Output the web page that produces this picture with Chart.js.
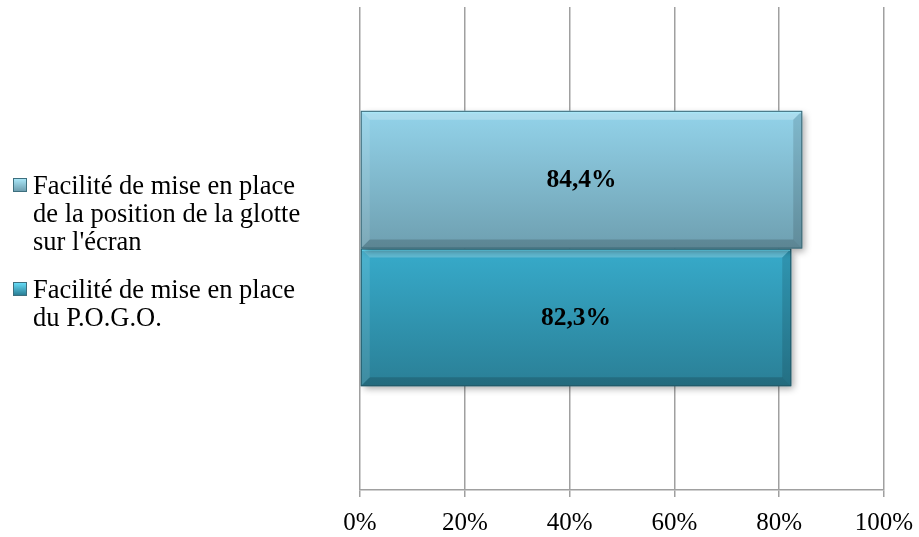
<!DOCTYPE html>
<html>
<head>
<meta charset="utf-8">
<script src="https://cdn.jsdelivr.net/npm/chart.js@4.4.0/dist/chart.umd.min.js"></script>
<style>
  html, body { margin: 0; padding: 0; background: #fff; }
  #wrap { position: relative; width: 919px; height: 537px; }
  #legend { position: absolute; left: 13px; top: 171px; font-family: "Liberation Serif", "Times New Roman", serif; font-size: 26.5px; line-height: 28px; color: #000; white-space: nowrap; }
  .item { position: relative; padding-left: 20px; margin-bottom: 20px; }
  .item .box { position: absolute; left: 0; top: 7px; width: 14px; height: 14px; box-sizing: border-box; border: 1px solid #3d6f7e; }
</style>
</head>
<body>
<div id="wrap">
  <canvas id="myChart" width="919" height="537"></canvas>
  <div id="legend"></div>
</div>
<script>
const categories = [''];
const seriesNames = [
  'Facilité de mise en place de la position de la glotte sur l\'écran',
  'Facilité de mise en place du P.O.G.O.'
];
const glotteValues = [84.4];
const pogoValues = [82.3];
const tickLabels = ['0%', '20%', '40%', '60%', '80%', '100%'];

// top / bottom colours of each bar's gradient, plus a bright top edge
const barColors = [
  { top: '#93d3ea', bottom: '#6e9fb0', edge: '#a9e6f7', border: '#3b6a78' },
  { top: '#37abcb', bottom: '#2a7f96', edge: '#66dbf6', border: '#235a68' }
];

function fmt(v){
  return v.toFixed(1).replace('.', ',') + '%';
}

// gradient fill, drop shadow and bevel on each bar
const bevelPlugin = {
  id: 'bevel',
  beforeDatasetDraw(chart, args){
    const ctx = chart.ctx;
    const c = barColors[args.index];
    args.meta.data.forEach(function(bar){
      const top = bar.y - bar.height / 2;
      const g = ctx.createLinearGradient(0, top, 0, top + bar.height);
      g.addColorStop(0, c.top);
      g.addColorStop(1, c.bottom);
      bar.options.backgroundColor = g;
    });
    ctx.save();
    ctx.shadowColor = 'rgba(0,0,0,0.35)';
    ctx.shadowBlur = 7;
    ctx.shadowOffsetX = 3;
    ctx.shadowOffsetY = 3;
  },
  afterDatasetDraw(chart, args){
    const ctx = chart.ctx;
    ctx.restore();
    const c = barColors[args.index];
    args.meta.data.forEach(function(bar){
      const l = Math.min(bar.base, bar.x), r = Math.max(bar.base, bar.x);
      const t = bar.y - bar.height / 2, b = bar.y + bar.height / 2;
      const w = 9;
      ctx.save();
      // top bevel
      ctx.fillStyle = 'rgba(255,255,255,0.22)';
      ctx.beginPath();
      ctx.moveTo(l, t); ctx.lineTo(r, t); ctx.lineTo(r - w, t + w); ctx.lineTo(l + w, t + w); ctx.closePath(); ctx.fill();
      // left bevel
      ctx.fillStyle = 'rgba(255,255,255,0.10)';
      ctx.beginPath();
      ctx.moveTo(l, t); ctx.lineTo(l + w, t + w); ctx.lineTo(l + w, b - w); ctx.lineTo(l, b); ctx.closePath(); ctx.fill();
      // right bevel
      ctx.fillStyle = 'rgba(0,0,0,0.12)';
      ctx.beginPath();
      ctx.moveTo(r, t); ctx.lineTo(r, b); ctx.lineTo(r - w, b - w); ctx.lineTo(r - w, t + w); ctx.closePath(); ctx.fill();
      // bottom bevel
      ctx.fillStyle = 'rgba(0,0,0,0.16)';
      ctx.beginPath();
      ctx.moveTo(l, b); ctx.lineTo(r, b); ctx.lineTo(r - w, b - w); ctx.lineTo(l + w, b - w); ctx.closePath(); ctx.fill();
      // bright top edge
      ctx.strokeStyle = c.edge;
      ctx.lineWidth = 2;
      ctx.beginPath(); ctx.moveTo(l + 1, t + 1.5); ctx.lineTo(r - 1, t + 1.5); ctx.stroke();
      // outline
      ctx.strokeStyle = c.border;
      ctx.lineWidth = 1;
      ctx.strokeRect(l + 0.5, t + 0.5, r - l - 1, b - t - 1);
      ctx.restore();
    });
  },
  afterDatasetsDraw(chart){
    const ctx = chart.ctx;
    ctx.save();
    ctx.font = 'bold 25.5px "Liberation Serif", serif';
    ctx.fillStyle = '#000';
    ctx.textAlign = 'center';
    ctx.textBaseline = 'middle';
    chart.data.datasets.forEach(function(ds, i){
      chart.getDatasetMeta(i).data.forEach(function(bar, j){
        const mid = (bar.base + bar.x) / 2;
        ctx.fillText(fmt(ds.data[j]), mid, bar.y + 1);
      });
    });
    ctx.restore();
  }
};

const data = {
  labels: categories,
  datasets: [
    { label: seriesNames[0], data: glotteValues, backgroundColor: barColors[0].top, borderWidth: 0 },
    { label: seriesNames[1], data: pogoValues, backgroundColor: barColors[1].top, borderWidth: 0 }
  ]
};

const config = {
  type: 'bar',
  data: data,
  options: {
    indexAxis: 'y',
    responsive: false,
    animation: false,
    layout: { padding: { left: 360, right: 35, top: 7, bottom: 0 } },
    datasets: { bar: { categoryPercentage: 0.57, barPercentage: 1.0 } },
    plugins: { legend: { display: false }, tooltip: { enabled: false } },
    scales: {
      x: {
        min: 0, max: 100,
        afterFit: function(scale){
          scale.height = 47;
          scale.paddingLeft = 0;
          scale.paddingRight = 0;
        },
        ticks: {
          stepSize: 20,
          padding: 11,
          color: '#000',
          maxRotation: 0,
          font: { family: '"Liberation Serif", serif', size: 25 },
          callback: function(v, i){ return tickLabels[i]; }
        },
        grid: { color: '#a0a0a0', lineWidth: 1.5, tickLength: 7 },
        border: { color: '#a0a0a0', width: 1.5 }
      },
      y: { display: false }
    }
  },
  plugins: [bevelPlugin]
};

const myChart = new Chart(document.getElementById('myChart'), config);

// legend at the left, with small bevelled squares
const legend = document.getElementById('legend');
const legendTexts = [
  'Facilité de mise en place<br>de la position de la glotte<br>sur l\'écran',
  'Facilité de mise en place<br>du P.O.G.O.'
];
legendTexts.forEach(function(txt, i){
  const c = barColors[i];
  const item = document.createElement('div');
  item.className = 'item';
  item.innerHTML = '<span class="box" style="background:linear-gradient(' + c.edge + ',' + c.bottom + ')"></span>' + txt;
  legend.appendChild(item);
});
</script>
</body>
</html>
